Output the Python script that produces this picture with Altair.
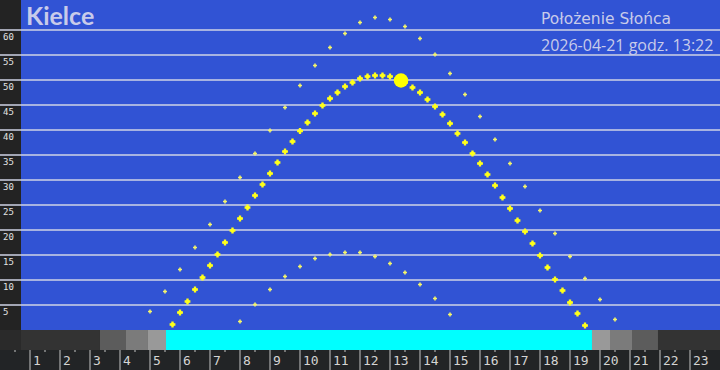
import altair as alt
import pandas as pd

# ---------------- data ----------------
today_hours = [5.75, 6.0, 6.25, 6.5, 6.75, 7.0, 7.25, 7.5, 7.75, 8.0, 8.25, 8.5, 8.75,
               9.0, 9.25, 9.5, 9.75, 10.0, 10.25, 10.5, 10.75, 11.0, 11.25, 11.5, 11.75,
               12.0, 12.25, 12.5, 12.75, 13.0, 13.25, 13.5, 13.75, 14.0, 14.25, 14.5, 14.75,
               15.0, 15.25, 15.5, 15.75, 16.0, 16.25, 16.5, 16.75, 17.0, 17.25, 17.5, 17.75,
               18.0, 18.25, 18.5, 18.75, 19.0, 19.25, 19.5]
today_elev = [1.1, 3.5, 5.7, 8.1, 10.5, 12.9, 15.1, 17.5, 19.9, 22.3, 24.5, 26.9, 29.1,
              31.3, 33.5, 35.7, 37.7, 39.8, 41.5, 43.3, 44.9, 46.3, 47.5, 48.7, 49.5,
              50.3, 50.7, 50.9, 50.9, 50.7, 50.3, 49.5, 48.5, 47.5, 46.1, 44.7, 43.1,
              41.3, 39.3, 37.5, 35.3, 33.3, 31.1, 28.9, 26.5, 24.3, 21.9, 19.7, 17.3,
              14.9, 12.5, 10.1, 7.9, 5.5, 3.3, 0.9]

summer_hours = [5.0, 5.5, 6.0, 6.5, 7.0, 7.5, 8.0, 8.5, 9.0, 9.5, 10.0, 10.5, 11.0, 11.5,
                12.0, 12.5, 13.0, 13.5, 14.0, 14.5, 15.0, 15.5, 16.0, 16.5, 17.0, 17.5,
                18.0, 18.5, 19.0, 19.5, 20.0, 20.5]
summer_elev = [3.7, 7.7, 12.1, 16.5, 21.1, 25.7, 30.5, 35.3, 39.9, 44.5, 48.9, 52.9, 56.5, 59.3,
               61.5, 62.5, 62.1, 60.7, 58.3, 55.1, 51.3, 47.1, 42.7, 38.1, 33.3, 28.7,
               23.9, 19.3, 14.7, 10.3, 6.1, 2.1]

winter_hours = [8.0, 8.5, 9.0, 9.5, 10.0, 10.5, 11.0, 11.5, 12.0, 12.5, 13.0, 13.5, 14.0, 14.5, 15.0]
winter_elev = [1.7, 5.1, 8.1, 10.7, 12.7, 14.3, 15.1, 15.5, 15.5, 14.7, 13.3, 11.5, 9.1, 6.3, 3.1]

sun_hour = [13.367]
sun_elev = [49.9]

band_start = [0.0, 3.333, 4.2, 4.933, 5.533, 19.733, 20.333, 21.067, 21.933]
band_end = [3.333, 4.2, 4.933, 5.533, 19.733, 20.333, 21.067, 21.933, 24.0]
band_color = ["#333333", "#5c5c5c", "#7b7b7b", "#999999", "#00ffff",
              "#999999", "#7b7b7b", "#5c5c5c", "#333333"]

grid_values = [5, 10, 15, 20, 25, 30, 35, 40, 45, 50, 55, 60]
hour_labels = list(range(1, 24))
half_ticks = [h + 0.5 for h in range(0, 24)]

title_city = "Kielce"
title_main = "Położenie Słońca"
title_date = "2026-04-21 godz. 13:22"

# ---------------- scales ----------------
XS = alt.Scale(domain=[0, 24], nice=False, zero=False)
YS = alt.Scale(domain=[-8, 66], nice=False, zero=False)

def X(field, **kw):
    return alt.X(field, type="quantitative", scale=XS, axis=None, **kw)

def Y(field, **kw):
    return alt.Y(field, type="quantitative", scale=YS, axis=None, **kw)

one = pd.DataFrame({"d": [0]})

blue_bg = alt.Chart(one).mark_rect(color="#3153d4").encode(
    x=alt.value(21), x2=alt.value(720), y=alt.value(0), y2=alt.value(330))
left_strip = alt.Chart(one).mark_rect(color="#232323").encode(
    x=alt.value(0), x2=alt.value(21), y=alt.value(0), y2=alt.value(330))
axis_bg = alt.Chart(one).mark_rect(color="#222426").encode(
    x=alt.value(0), x2=alt.value(720), y=alt.value(350), y2=alt.value(370))

grid_df = pd.DataFrame({"e": grid_values, "lab": [str(v) for v in grid_values]})
grid = alt.Chart(grid_df).mark_rule(color="#cfd3e6", strokeWidth=1.3).encode(
    y=Y("e"), x=alt.value(0), x2=alt.value(720))
ylabels = alt.Chart(grid_df).mark_text(
    align="left", baseline="middle", dy=7, font="DejaVu Sans Mono", fontSize=9,
    color="#e4e4e4").encode(y=Y("e"), x=alt.value(3), text="lab:N")

band_df = pd.DataFrame({"s": band_start, "e": band_end, "c": band_color})
band = alt.Chart(band_df).mark_rect().encode(
    x=X("s"), x2="e", y=alt.value(330), y2=alt.value(350),
    color=alt.Color("c:N", scale=None))
band_left = alt.Chart(one).mark_rect(color="#2a2a2a").encode(
    x=alt.value(0), x2=alt.value(21), y=alt.value(330), y2=alt.value(350))

hours_df = pd.DataFrame({"h": hour_labels, "lab": [str(h) for h in hour_labels]})
hour_rules = alt.Chart(hours_df).mark_rule(color="#c4c4c4", strokeWidth=1).encode(
    x=X("h"), y=alt.value(350), y2=alt.value(370))
half_df = pd.DataFrame({"h": half_ticks})
half_rules = alt.Chart(half_df).mark_rule(color="#c4c4c4", strokeWidth=1).encode(
    x=X("h"), y=alt.value(350), y2=alt.value(352))
hour_text = alt.Chart(hours_df).mark_text(
    align="left", baseline="middle", dx=3, font="DejaVu Sans Mono", fontSize=13,
    color="#d4d4d4").encode(x=X("h"), y=alt.value(361), text="lab:N")

summer_df = pd.DataFrame({"h": summer_hours, "e": summer_elev})
winter_df = pd.DataFrame({"h": winter_hours, "e": winter_elev})
today_df = pd.DataFrame({"h": today_hours, "e": today_elev})
sun_df = pd.DataFrame({"h": sun_hour, "e": sun_elev})

summer = alt.Chart(summer_df).mark_point(
    shape="cross", filled=True, size=16, color="#f4f46a", opacity=1).encode(x=X("h"), y=Y("e"))
winter = alt.Chart(winter_df).mark_point(
    shape="cross", filled=True, size=16, color="#f4f46a", opacity=1).encode(x=X("h"), y=Y("e"))
today_d = alt.Chart(today_df).mark_point(
    shape="diamond", filled=True, size=26, color="#ffff1a", opacity=1).encode(x=X("h"), y=Y("e"))
today = alt.Chart(today_df).mark_point(
    shape="cross", filled=True, size=34, color="#ffff1a", opacity=1).encode(x=X("h"), y=Y("e"))
sun = alt.Chart(sun_df).mark_point(
    shape="circle", filled=True, size=210, color="#ffff00", opacity=1).encode(x=X("h"), y=Y("e"))

t_city = alt.Chart(pd.DataFrame({"t": [title_city]})).mark_text(
    align="left", baseline="alphabetic", font="Lato", fontSize=25, fontWeight="bold",
    color="#c8cbea").encode(x=alt.value(26), y=alt.value(25), text="t:N")
t_main = alt.Chart(pd.DataFrame({"t": [title_main]})).mark_text(
    align="left", baseline="alphabetic", font="DejaVu Sans", fontSize=15.5,
    color="#c8cbea").encode(x=alt.value(541), y=alt.value(24), text="t:N")
t_date = alt.Chart(pd.DataFrame({"t": [title_date]})).mark_text(
    align="left", baseline="alphabetic", font="Open Sans", fontSize=16,
    color="#c8cbea").encode(x=alt.value(541), y=alt.value(51), text="t:N")

chart = alt.layer(
    blue_bg, left_strip, axis_bg, grid, ylabels, band, band_left,
    hour_rules, half_rules, hour_text, winter, summer, today_d, today, sun,
    t_city, t_main, t_date
).properties(
    width=720, height=370, padding=0, background="#232323",
    autosize=alt.AutoSizeParams(type="none")
).configure_view(stroke=None)

chart.save("out.html", embed_options={"renderer": "svg", "actions": False})
